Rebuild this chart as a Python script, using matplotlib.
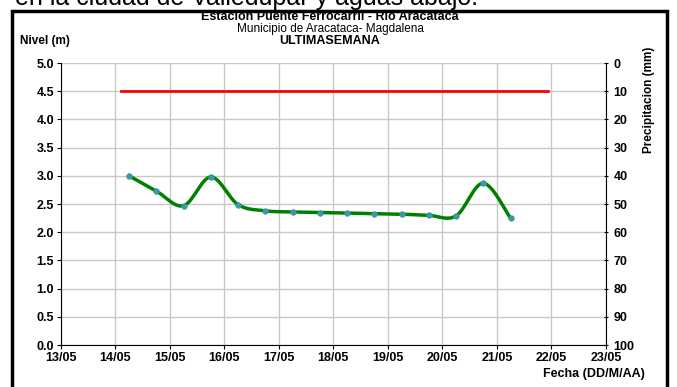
import numpy as np
import matplotlib
matplotlib.use("Agg")
from matplotlib import pyplot as plt
import matplotlib.dates as mdates
from matplotlib.patches import Rectangle

plt.rcParams['font.family'] = ['Liberation Sans', 'DejaVu Sans']

# level readings, every 12 h
fechas = ['2011-05-14T06:00', '2011-05-14T18:00', '2011-05-15T06:00', '2011-05-15T18:00',
          '2011-05-16T06:00', '2011-05-16T18:00', '2011-05-17T06:00', '2011-05-17T18:00',
          '2011-05-18T06:00', '2011-05-18T18:00', '2011-05-19T06:00', '2011-05-19T18:00',
          '2011-05-20T06:00', '2011-05-20T18:00', '2011-05-21T06:00']
nivel = [3.00, 2.73, 2.47, 2.98, 2.49, 2.38, 2.36, 2.35, 2.34, 2.33, 2.32, 2.30, 2.29, 2.87, 2.25]

# alert level
alerta_fechas = ['2011-05-14T02:40', '2011-05-21T22:40']
alerta_nivel = [4.5, 4.5]

x_ini, x_fin = '2011-05-13', '2011-05-23'
y_ticks = np.arange(0, 5.01, 0.5)
precip_ticks = np.arange(0, 101, 10)


def smooth(x, y, n=30):
    # excel-like smoothed line (catmull-rom)
    x = np.asarray(x, float)
    y = np.asarray(y, float)
    px = np.concatenate([[x[0]], x, [x[-1]]])
    py = np.concatenate([[y[0]], y, [y[-1]]])
    xs, ys = [], []
    t = np.linspace(0, 1, n)
    for i in range(1, len(px) - 2):
        for p, out in ((px, xs), (py, ys)):
            p0, p1, p2, p3 = p[i - 1], p[i], p[i + 1], p[i + 2]
            out.extend(0.5 * ((2 * p1) + (-p0 + p2) * t +
                              (2 * p0 - 5 * p1 + 4 * p2 - p3) * t ** 2 +
                              (-p0 + 3 * p1 - 3 * p2 + p3) * t ** 3))
    return np.array(xs), np.array(ys)


xd = mdates.date2num(np.array(fechas, dtype='datetime64[m]'))
xa = mdates.date2num(np.array(alerta_fechas, dtype='datetime64[m]'))

fig = plt.figure(figsize=(6.77, 3.87), dpi=100)
ax = fig.add_axes([0.090, 0.1085, 0.805, 0.7285])

ax.set_xlim(mdates.date2num(np.datetime64(x_ini)), mdates.date2num(np.datetime64(x_fin)))
ax.set_ylim(0, 5)
ax.xaxis.set_major_locator(mdates.DayLocator())
ax.xaxis.set_major_formatter(mdates.DateFormatter('%d/%m'))
ax.set_yticks(y_ticks)
ax.set_yticklabels(['%.1f' % v for v in y_ticks])
ax.grid(True, color='#c8c8c8', lw=1)
ax.set_axisbelow(True)
for s in ['top', 'right']:
    ax.spines[s].set_visible(False)
ax.tick_params(labelsize=9, length=3, width=0.8, pad=2)
for lab in ax.get_xticklabels() + ax.get_yticklabels():
    lab.set_fontweight('bold')

ax.plot(xa, alerta_nivel, color='#ff0000', lw=2)
sx, sy = smooth(xd, nivel)
ax.plot(sx, sy, color='#008000', lw=2.5)
ax.plot(xd, nivel, 'o', color='#3a9aa0', ms=4, mec='#3a8fb0', mew=0.5)

ax2 = ax.twinx()
ax2.set_ylim(100, 0)
ax2.set_yticks(precip_ticks)
ax2.tick_params(labelsize=9, length=3, width=0.8, direction='inout', pad=4)
for lab in ax2.get_yticklabels():
    lab.set_fontweight('bold')
for s in ['top', 'left', 'bottom']:
    ax2.spines[s].set_visible(False)
ax2.spines['right'].set_linewidth(0.8)
ax.spines['left'].set_linewidth(0.8)
ax.spines['bottom'].set_linewidth(0.8)

fig.text(649 / 677, 1 - 100 / 387, 'Precipitacion (mm)', rotation=90, fontsize=8.5,
         fontweight='bold', ha='center', va='center')

fig.text(330 / 677, 1 - 17.5 / 387, 'Estación Puente Ferrocarril - Río Aracataca', fontsize=9,
         fontweight='bold', ha='center', va='center')
fig.text(330 / 677, 1 - 29 / 387, 'Municipio de Aracataca- Magdalena', fontsize=8.5,
         ha='center', va='center')
fig.text(330 / 677, 1 - 40.5 / 387, 'ULTIMASEMANA', fontsize=9, fontweight='bold',
         ha='center', va='center')
fig.text(20 / 677, 1 - 41 / 387, 'Nivel (m)', fontsize=8.5, fontweight='bold',
         ha='left', va='center')
fig.text(645 / 677, 1 - 374 / 387, 'Fecha (DD/M/AA)', fontsize=9, fontweight='bold',
         ha='right', va='center')

# frame around the chart
fig.patches.append(Rectangle((12 / 677, -0.05), 655 / 677, 1.05 - 11 / 387,
                             transform=fig.transFigure, fill=False, lw=2.5,
                             edgecolor='black'))

# caption text cut off at the top
fig.text(15 / 677, 1 - 5 / 387, 'en la ciudad de Valledupar y aguas abajo.', fontsize=18,
         ha='left', va='baseline')

fig.savefig('out.png', dpi=100)
